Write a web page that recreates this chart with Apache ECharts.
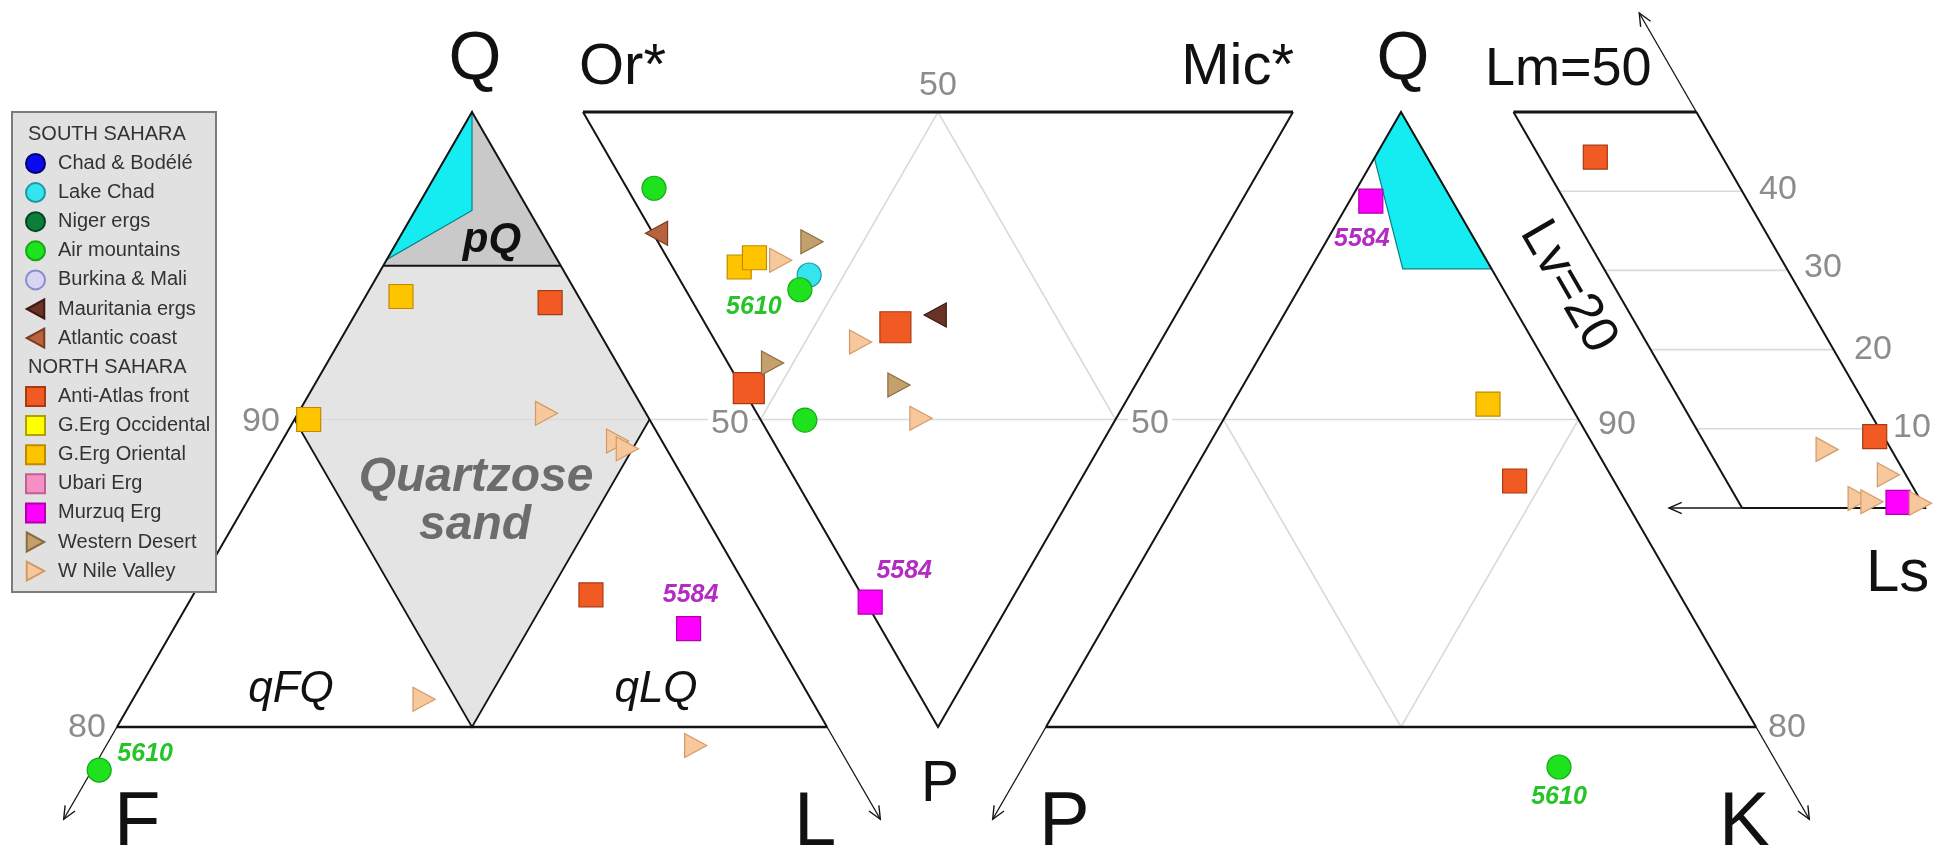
<!DOCTYPE html>
<html>
<head>
<meta charset="utf-8">
<title>Sahara sands - QFL, feldspar, QPK and lithic diagrams</title>
<script src="https://cdn.jsdelivr.net/npm/echarts@6/dist/echarts.min.js"></script>
<style>
  html, body { margin: 0; padding: 0; background: #fff; }
  #chart { width: 1944px; height: 851px; }
</style>
</head>
<body>
<div id="chart"></div>
<script>
// compositions in percent
// QFL: [Q, F, L]   feldspars: [Or*, Mic*, P]   QPK: [Q, P, K]   lithics: [Lm, Lv]
// an optional last entry is the sample number written next to the point
const airQFL = [[78.6, 21.2, 0.2, '5610']];
const airFeld = [[83.8, 3.8, 12.4], [55.0, 16.1, 28.9, '5610'], [43.7, 6.2, 50.1]];
const airQPK = [[78.7, 6.2, 15.1, '5610']];
const lakeChadFeld = [[54.9, 18.6, 26.5]];
const mauritaniaFeld = [[33.9, 33.1, 33.0]];
const atlanticFeld = [[79.8, 0.5, 19.7]];
const antiAtlasQFL = [[93.8, 0.9, 5.3], [84.3, 4.5, 11.2]];
const antiAtlasFeld = [[38.5, 26.5, 35.0], [54.2, 0.9, 44.9]];
const antiAtlasQPK = [[88.0, 2.8, 9.2]];
const antiAtlasLith = [[44.3, 13.9], [9.0, 1.0]];
const ergOrientalQFL = [[94.0, 5.0, 1.0], [90.0, 9.6, 0.4]];
const ergOrientalFeld = [[65.4, 9.4, 25.2], [64.0, 12.3, 23.7]];
const ergOrientalQPK = [[90.5, 2.3, 7.2]];
const murzuqQFL = [[83.2, 2.3, 14.5, '5584']];
const murzuqFeld = [[19.7, 0.6, 79.7, '5584']];
const murzuqQPK = [[97.1, 2.3, 0.6, '5584']];
const murzuqLith = [[0.7, 2.6]];
const westDesertFeld = [[57.2, 21.7, 21.1], [52.9, 6.3, 40.8], [33.3, 22.3, 44.4]];
const nileQFL = [[90.2, 2.8, 7.0], [89.3, 1.25, 9.45], [89.05, 1.1, 9.85], [80.9, 10.9, 8.2], [79.4, 4.0, 16.6]];
const nileFeld = [[60.1, 15.8, 24.1], [42.2, 20.4, 37.4], [27.5, 22.7, 49.8]];
const nileLith = [[7.4, 7.0], [4.2, 1.9], [1.2, 6.6], [0.8, 5.4], [0.6, 0.2]];

// fields
const pqField = [[100, 0, 0], [95, 5, 0], [95, 0, 5]];
const quartzoseField = [[95, 5, 0], [95, 0, 5], [90, 0, 10], [80, 10, 10], [90, 10, 0]];
const cyanQFL = [[100, 0, 0], [96.8, 1.6, 1.6], [95.2, 4.8, 0]];
const cyanQPK = [[100, 0, 0], [98.5, 1.5, 0], [94.9, 2.5, 2.6], [94.9, 0, 5.1]];
const lithGrid = [10, 20, 30, 40];

// page geometry of the four diagrams (axis units = pixels)
const H = 30.75, W = H / Math.sqrt(3);
const onQFL = (q, f, l) => [472 + (l - f) * W, 112 + (100 - q) * H];
const onQPK = (q, p, k) => [1401 + (k - p) * W, 112 + (100 - q) * H];
const onFeld = (or, mic, p) => [938 + (mic - or) * 3.55, 112 + p * 6.15];
const onLith = (lm, lv) => [1925 - (lv + lm / 2) * 9.145, 508 - lm * 7.92];

const sans = "'Liberation Sans', Arial, sans-serif";
const black = '#141414', grey = '#dadada';

const fills = [
  { pts: pqField.map(p => onQFL(...p)), fill: '#c9c9c9', stroke: null },
  { pts: quartzoseField.map(p => onQFL(...p)), fill: '#e4e4e4', stroke: null },
  { pts: cyanQFL.map(p => onQFL(...p)), fill: '#14ecf2', stroke: '#0b7f86' },
  { pts: cyanQPK.map(p => onQPK(...p)), fill: '#14ecf2', stroke: '#0b7f86' }
];

const lines = [
  { pts: [onQFL(90, 10, 0), onQPK(90, 0, 10)], color: grey, width: 1.6 },
  { pts: [onFeld(50, 0, 50), onFeld(50, 50, 0), onFeld(0, 50, 50)], color: grey, width: 1.6 },
  { pts: [onQPK(90, 10, 0), onQPK(80, 10, 10), onQPK(90, 0, 10)], color: grey, width: 1.6 },
  ...lithGrid.map(lm => ({ pts: [onLith(lm, 20), onLith(lm, 0)], color: grey, width: 1.6 })),
  // QFL
  { pts: [onQFL(80, 20, 0), onQFL(100, 0, 0), onQFL(80, 0, 20)], color: black, width: 2 },
  { pts: [onQFL(80, 20, 0), onQFL(80, 0, 20)], color: black, width: 2.6 },
  { pts: [onQFL(95, 5, 0), onQFL(95, 0, 5)], color: black, width: 2 },
  { pts: [onQFL(90, 10, 0), onQFL(80, 10, 10), onQFL(90, 0, 10)], color: black, width: 1.8 },
  { pts: [onQFL(80, 20, 0), onQFL(77, 23, 0)], color: black, width: 1.3 },
  { pts: [onQFL(80, 0, 20), onQFL(77, 0, 23)], color: black, width: 1.3 },
  // feldspars
  { pts: [onFeld(100, 0, 0), onFeld(0, 100, 0)], color: black, width: 2.8 },
  { pts: [onFeld(100, 0, 0), onFeld(0, 0, 100), onFeld(0, 100, 0)], color: black, width: 2 },
  // QPK
  { pts: [onQPK(80, 20, 0), onQPK(100, 0, 0), onQPK(80, 0, 20)], color: black, width: 2 },
  { pts: [onQPK(80, 20, 0), onQPK(80, 0, 20)], color: black, width: 2.6 },
  { pts: [onQPK(80, 20, 0), onQPK(77, 23, 0)], color: black, width: 1.3 },
  { pts: [onQPK(80, 0, 20), onQPK(77, 0, 23)], color: black, width: 1.3 },
  // lithics
  { pts: [onLith(50, 20), onLith(50, 0)], color: black, width: 2.8 },
  { pts: [onLith(50, 20), onLith(0, 20)], color: black, width: 2 },
  { pts: [onLith(50, 0), onLith(0, 0), onLith(0, 20)], color: black, width: 2 },
  { pts: [onLith(50, 0), onLith(62.5, 0)], color: black, width: 1.3 },
  { pts: [onLith(0, 20), onLith(0, 28)], color: black, width: 1.3 }
];

const arrows = [
  [onQFL(77, 23, 0), onQFL(80, 20, 0)],
  [onQFL(77, 0, 23), onQFL(80, 0, 20)],
  [onQPK(77, 23, 0), onQPK(80, 20, 0)],
  [onQPK(77, 0, 23), onQPK(80, 0, 20)],
  [onLith(62.5, 0), onLith(50, 0)],
  [onLith(0, 28), onLith(0, 20)]
];

const triRight = 'path://M0,0L24,13L0,26Z';
const triLeft = 'path://M24,0L0,13L24,26Z';

function tagLabel(tag, color, offset) {
  return {
    show: true, formatter: tag, position: 'inside', offset: offset,
    color: color, fontFamily: sans, fontSize: 25, fontWeight: 'bold', fontStyle: 'italic'
  };
}

// project a list of compositions, tagged points get their sample number
function place(list, fn, n, tagColor, offset) {
  return list.map(d => {
    const v = fn(...d.slice(0, n));
    if (d[n]) return { value: v, label: tagLabel(d[n], tagColor, offset) };
    return v;
  });
}

function big(list) {
  return list.map(v => ({ value: v, symbolSize: 31 }));
}

function scatter(name, symbol, color, border, data) {
  return {
    name: name, type: 'scatter', symbol: symbol, symbolSize: 24, symbolKeepAspect: true,
    itemStyle: { color: color, borderColor: border, borderWidth: 1.2, opacity: 1 },
    emphasis: { disabled: true },
    data: data, z: 6
  };
}

const green = '#27c427', purple = '#b32cc2';

const series = [
  {
    type: 'custom', coordinateSystem: 'cartesian2d', silent: true, z: 1,
    data: fills.map((f, i) => [i, 0]),
    renderItem: (params, api) => {
      const f = fills[params.dataIndex];
      return {
        type: 'polygon', shape: { points: f.pts.map(p => api.coord(p)) },
        style: { fill: f.fill, stroke: f.stroke, lineWidth: f.stroke ? 1.2 : 0 }
      };
    }
  },
  {
    type: 'custom', coordinateSystem: 'cartesian2d', silent: true, z: 2,
    data: lines.map((l, i) => [i, 0]),
    renderItem: (params, api) => {
      const l = lines[params.dataIndex];
      return {
        type: 'polyline', shape: { points: l.pts.map(p => api.coord(p)) },
        style: { stroke: l.color, lineWidth: l.width, fill: null }
      };
    }
  },
  {
    type: 'custom', coordinateSystem: 'cartesian2d', silent: true, z: 2,
    data: arrows.map((a, i) => [i, 0]),
    renderItem: (params, api) => {
      const a = arrows[params.dataIndex];
      const tip = api.coord(a[0]), from = api.coord(a[1]);
      const ang = Math.atan2(tip[1] - from[1], tip[0] - from[0]);
      const len = 14, spread = 0.42;
      return {
        type: 'polyline',
        shape: { points: [
          [tip[0] - len * Math.cos(ang - spread), tip[1] - len * Math.sin(ang - spread)],
          tip,
          [tip[0] - len * Math.cos(ang + spread), tip[1] - len * Math.sin(ang + spread)]
        ] },
        style: { stroke: black, lineWidth: 1.4, fill: null }
      };
    }
  },
  scatter('Chad & Bodélé', 'circle', '#0a0af0', '#00006a', []),
  scatter('Lake Chad', 'circle', '#36e4ee', '#1a9aa8', place(lakeChadFeld, onFeld, 3)),
  scatter('Niger ergs', 'circle', '#0b7e3a', '#05461f', []),
  scatter('Air mountains', 'circle', '#1ee21e', '#15a815', [
    ...place(airQFL, onQFL, 3, green, [46, -16]),
    ...place(airFeld, onFeld, 3, green, [-46, 17]),
    ...place(airQPK, onQPK, 3, green, [0, 30])
  ]),
  scatter('Burkina & Mali', 'circle', '#d6d6f2', '#8a8ad0', []),
  scatter('Mauritania ergs', triLeft, '#6b3326', '#3c1a12', place(mauritaniaFeld, onFeld, 3)),
  scatter('Atlantic coast', triLeft, '#b9633e', '#7a3a20', place(atlanticFeld, onFeld, 3)),
  scatter('Anti-Atlas front', 'rect', '#f25a24', '#a83a12', [
    ...place(antiAtlasQFL, onQFL, 3),
    ...big(place(antiAtlasFeld, onFeld, 3)),
    ...place(antiAtlasQPK, onQPK, 3),
    ...place(antiAtlasLith, onLith, 2)
  ]),
  scatter('G.Erg Occidental', 'rect', '#ffff00', '#b0a000', []),
  scatter('G.Erg Oriental', 'rect', '#ffc400', '#c08a00', [
    ...place(ergOrientalQFL, onQFL, 3),
    ...place(ergOrientalFeld, onFeld, 3),
    ...place(ergOrientalQPK, onQPK, 3)
  ]),
  scatter('Ubari Erg', 'rect', '#f590c4', '#c06090', []),
  scatter('Murzuq Erg', 'rect', '#ff00ff', '#b000b0', [
    ...place(murzuqQFL, onQFL, 3, purple, [2, -33]),
    ...place(murzuqFeld, onFeld, 3, purple, [34, -31]),
    ...place(murzuqQPK, onQPK, 3, purple, [-9, 38]),
    ...place(murzuqLith, onLith, 2)
  ]),
  scatter('Western Desert', triRight, '#c4a06c', '#8a6c40', place(westDesertFeld, onFeld, 3)),
  scatter('W Nile Valley', triRight, '#f7c89c', '#d39a68', [
    ...place(nileQFL, onQFL, 3),
    ...place(nileFeld, onFeld, 3),
    ...place(nileLith, onLith, 2)
  ])
];

const south = ['Chad & Bodélé', 'Lake Chad', 'Niger ergs', 'Air mountains', 'Burkina & Mali', 'Mauritania ergs', 'Atlantic coast'];
const north = ['Anti-Atlas front', 'G.Erg Occidental', 'G.Erg Oriental', 'Ubari Erg', 'Murzuq Erg', 'Western Desert', 'W Nile Valley'];

function legendBlock(names, top) {
  return {
    data: names, orient: 'vertical', left: 25, top: top, padding: 0,
    itemWidth: 19, itemHeight: 19, itemGap: 8.1, selectedMode: false,
    textStyle: { fontFamily: sans, fontSize: 20, lineHeight: 20, color: '#333', padding: [0, 0, 0, 8] }
  };
}

function txt(text, x, y, size, opts) {
  const o = opts || {};
  return {
    type: 'text', x: x, y: y, z: o.z || 7, rotation: o.rotation || 0,
    style: {
      text: text, fill: o.color || '#111', fontFamily: sans, fontSize: size,
      fontWeight: o.weight || 'normal', fontStyle: o.italic ? 'italic' : 'normal',
      align: o.align || 'center', verticalAlign: 'middle',
      textAlign: o.align || 'center', textVerticalAlign: 'middle',
      backgroundColor: o.bg || 'transparent', padding: o.bg ? [0, 3] : 0
    }
  };
}

const tick = '#8c8c8c';
const graphic = [
  { type: 'rect', z: 3, shape: { x: 12, y: 112, width: 204, height: 480 },
    style: { fill: '#e1e1e1', stroke: '#7c7c7c', lineWidth: 2 } },
  txt('SOUTH SAHARA', 28, 134, 20, { align: 'left', color: '#333' }),
  txt('NORTH SAHARA', 28, 367, 20, { align: 'left', color: '#333' }),
  // corner labels
  txt('Q', 475, 60, 68),
  txt('Or*', 579, 68, 58, { align: 'left' }),
  txt('Mic*', 1294, 68, 58, { align: 'right' }),
  txt('Q', 1403, 60, 68),
  txt('Lm=50', 1485, 70, 54, { align: 'left' }),
  txt('Lv=20', 1568, 287, 52, { rotation: -Math.PI / 3 }),
  txt('F', 114, 824, 76, { align: 'left' }),
  txt('L', 794, 824, 76, { align: 'left' }),
  txt('P', 921, 785, 57, { align: 'left' }),
  txt('P', 1039, 824, 76, { align: 'left' }),
  txt('K', 1719, 824, 76, { align: 'left' }),
  txt('Ls', 1866, 574, 60, { align: 'left' }),
  // field names
  txt('pQ', 492, 240, 42, { weight: 'bold', italic: true }),
  txt('Quartzose', 476, 478, 48, { weight: 'bold', italic: true, color: '#6c6c6c' }),
  txt('sand', 475, 526, 48, { weight: 'bold', italic: true, color: '#6c6c6c' }),
  txt('qFQ', 291, 690, 44, { italic: true }),
  txt('qLQ', 656, 690, 44, { italic: true }),
  // scale values
  txt('90', 261, 422, 34, { color: tick }),
  txt('80', 87, 728, 34, { color: tick }),
  txt('50', 938, 86, 34, { color: tick }),
  txt('50', 730, 424, 34, { color: tick, bg: '#fff' }),
  txt('50', 1150, 424, 34, { color: tick, bg: '#fff' }),
  txt('90', 1617, 425, 34, { color: tick }),
  txt('80', 1787, 728, 34, { color: tick }),
  txt('40', 1778, 190, 34, { color: tick }),
  txt('30', 1823, 268, 34, { color: tick }),
  txt('20', 1873, 350, 34, { color: tick }),
  txt('10', 1912, 428, 34, { color: tick })
];

const chart = echarts.init(document.getElementById('chart'));
chart.setOption({
  animation: false,
  backgroundColor: '#fff',
  grid: { left: 0, right: 0, top: 0, bottom: 0, containLabel: false },
  xAxis: { type: 'value', min: 0, max: 1944, show: false },
  yAxis: { type: 'value', min: 0, max: 851, inverse: true, show: false },
  legend: [legendBlock(south, 153), legendBlock(north, 386)],
  graphic: graphic,
  series: series
});
</script>
</body>
</html>
